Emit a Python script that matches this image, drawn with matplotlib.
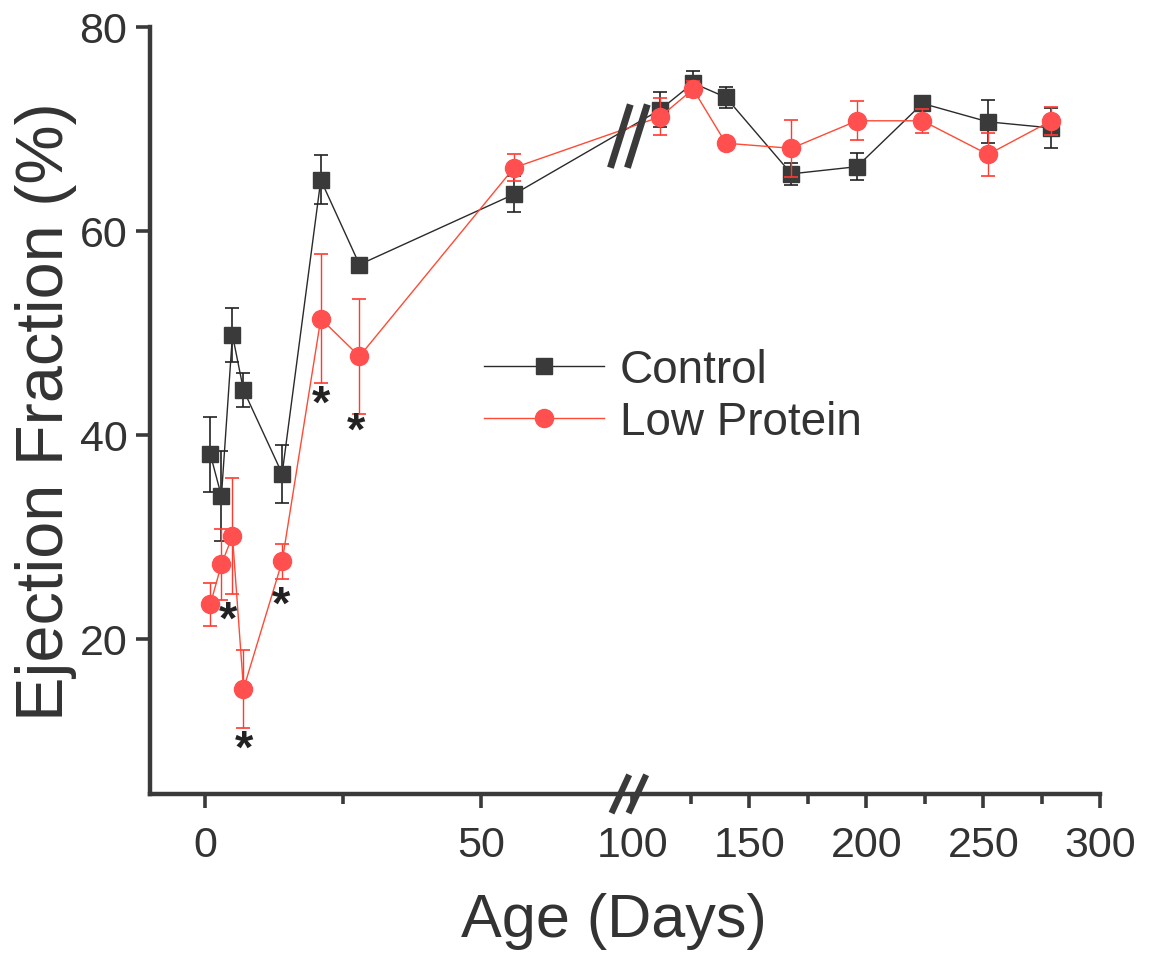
import numpy as np
import matplotlib
matplotlib.use("Agg")
import matplotlib.pyplot as plt
import matplotlib.transforms as mtransforms

plt.rcParams['font.family'] = ['Liberation Sans', 'DejaVu Sans']

# ages in days
days = [1, 3, 5, 7, 14, 21, 28, 56, 112, 126, 140, 168, 196, 224, 252, 279]

control = [38.1, 34.0, 49.8, 44.4, 36.2, 65.0, 56.7, 63.6,
           71.9, 74.5, 73.1, 65.6, 66.3, 72.5, 70.7, 70.1]
control_err = [3.7, 4.4, 2.6, 1.65, 2.85, 2.4, 0.4, 1.75,
               1.7, 1.2, 1.0, 1.1, 1.3, 0.3, 2.1, 1.95]

low_protein = [23.4, 27.3, 30.1, 15.1, 27.6, 51.4, 47.7, 66.2,
               71.2, 73.9, 68.6, 68.1, 70.8, 70.8, 67.5, 70.8]
low_protein_err = [2.1, 3.5, 5.7, 3.85, 1.7, 6.3, 5.6, 1.3,
                   1.8, 0.8, 0.3, 2.8, 1.9, 1.2, 2.1, 1.4]

# significance stars (day, y)
star_x = [4.2, 13.8, 7.1, 21.0, 27.4]
star_y = [22.6, 24.0, 9.9, 43.7, 41.1]

major_ticks = [0, 50, 100, 150, 200, 250, 300]
minor_ticks = [25, 125, 175, 225, 275]

# broken x axis: 0..76 linear, 76..100 squeezed, 100..300 compressed
CUT = 76.0
U100 = 77.4
R = 0.4239
K = (U100 - CUT) / (100 - CUT)


def fwd(x):
    x = np.asarray(x, dtype=float)
    return np.where(x <= CUT, x,
                    np.where(x < 100, CUT + (x - CUT) * K, U100 + (x - 100) * R))


def inv(u):
    u = np.asarray(u, dtype=float)
    return np.where(u <= CUT, u,
                    np.where(u < U100, CUT + (u - CUT) / K, 100 + (u - U100) / R))


DARK = '#3a3a3a'
RED = '#ff4f4f'
REDLINE = '#ff4a35'
TXT = '#333333'

fig = plt.figure(figsize=(11.51, 9.54), dpi=100)
ax = fig.add_axes([0.130, 0.1667, 0.826, 0.804])
ax.set_xscale('function', functions=(fwd, inv))

ax.errorbar(days, control, yerr=control_err, fmt='none', ecolor='#222222',
            elinewidth=1.2, capsize=5, capthick=1.2, zorder=2)
ax.plot(days, control, color='#2a2a2a', lw=1.0, marker='s', ms=12,
        mfc=DARK, mec=DARK, label='Control', zorder=3)

ax.errorbar(days, low_protein, yerr=low_protein_err, fmt='none', ecolor='#ff3a30',
            elinewidth=1.0, capsize=5, capthick=1.2, zorder=4)
ax.plot(days, low_protein, color=REDLINE, lw=1.0, marker='o', ms=13,
        mfc=RED, mec=RED, label='Low Protein', zorder=5)

star_shift = mtransforms.ScaledTranslation(0, -8 / 100, fig.dpi_scale_trans)
for sx, sy in zip(star_x, star_y):
    ax.text(sx, sy, '*', fontsize=34, fontweight='bold', color='#222222',
            ha='center', va='center', zorder=6,
            transform=ax.transData + star_shift)

ax.set_xlim(-10, 300)
ax.set_ylim(4.8, 80)
ax.set_xticks(major_ticks)
ax.set_xticks(minor_ticks, minor=True)
ax.set_yticks([20, 40, 60, 80])

for s in ['top', 'right']:
    ax.spines[s].set_visible(False)
for s in ['left', 'bottom']:
    ax.spines[s].set_linewidth(3.2)
    ax.spines[s].set_color(DARK)

ax.tick_params(which='major', length=10, width=2.6, color=DARK,
               labelsize=31, labelcolor=TXT, pad=6)
ax.tick_params(which='minor', length=7, width=2.6, color=DARK)
ax.tick_params(axis='x', which='major', pad=12)

ax.set_xlabel('Age (Days)', fontsize=44, color=TXT)
ax.xaxis.set_label_coords(0.488, -0.128)
ax.set_ylabel('Ejection Fraction (%)', fontsize=48, color=TXT, labelpad=2)

# break marks (on axis and on the data lines)
brk = fwd(88.0)
trans_x = mtransforms.blended_transform_factory(ax.transData, ax.transAxes)
off = mtransforms.ScaledTranslation
for dx in (-8 / 100, 9 / 100):
    t = trans_x + off(dx, 0, fig.dpi_scale_trans)
    ax.plot([inv(brk - 1.6), inv(brk + 1.6)], [-0.025, 0.025], transform=t,
            color=DARK, lw=4.5, solid_capstyle='butt', clip_on=False, zorder=7)
    t2 = ax.transData + off(dx, 0, fig.dpi_scale_trans)
    ax.plot([inv(brk - 1.8), inv(brk + 1.8)], [66.2, 72.4], transform=t2,
            color=DARK, lw=5, solid_capstyle='butt', clip_on=False, zorder=7)

leg = ax.legend(loc='upper left', bbox_to_anchor=(0.328, 0.611), frameon=False,
                fontsize=33, handlelength=2.6, handletextpad=0.35,
                labelspacing=0.18, borderpad=0, labelcolor=TXT)

fig.savefig('out.png', dpi=100, facecolor='white')
